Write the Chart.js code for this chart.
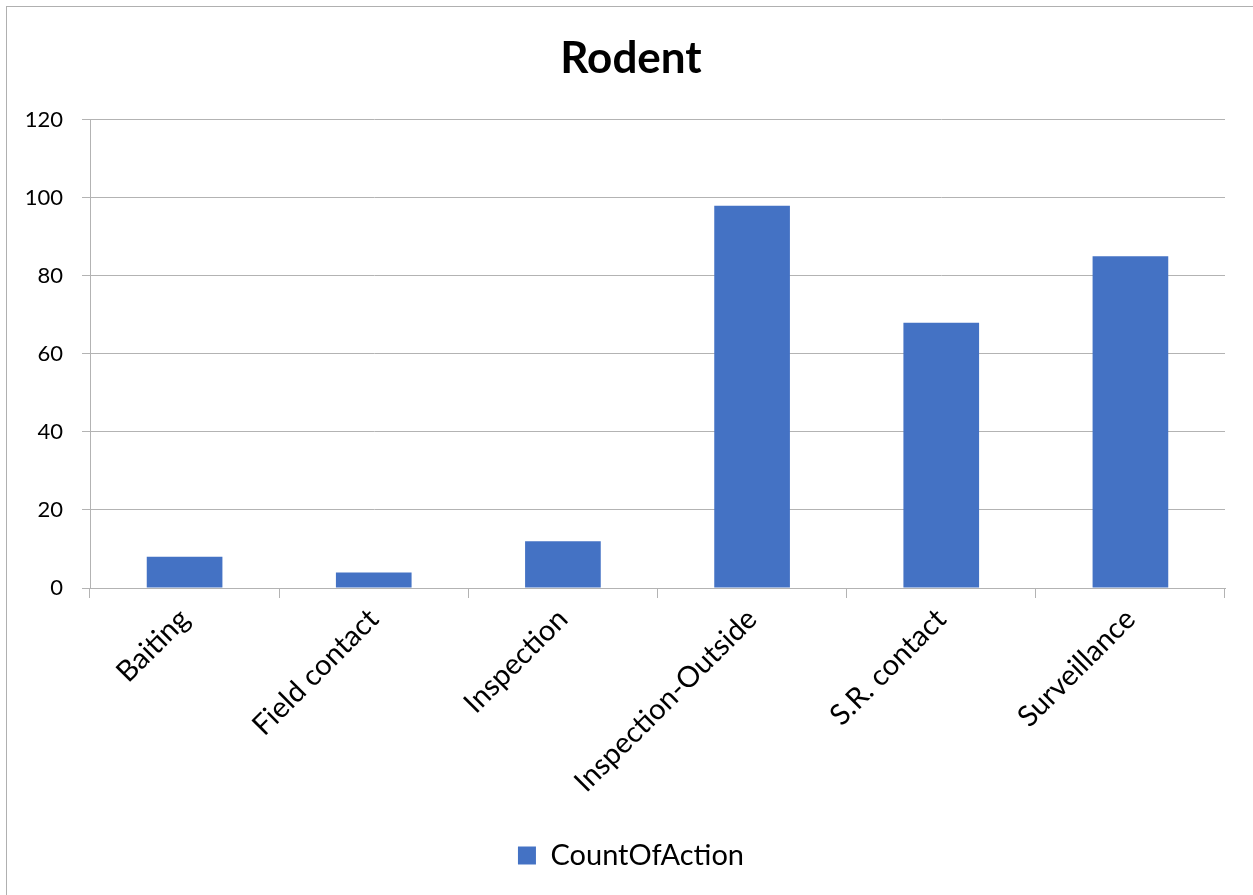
<!DOCTYPE html>
<html>
<head>
<meta charset="utf-8">
<script src="https://cdn.jsdelivr.net/npm/chart.js@4"></script>
<style>
    body { margin: 0; background: #fff; overflow: hidden; }
    #frame {
        position: absolute; left: 6px; top: 6px;
        width: 1260px; height: 900px;
        border: 1.5px solid #b0b0b0;
    }
    #rodentChart { position: absolute; left: 9px; top: 9px; }
</style>
</head>
<body>
<div id="frame"></div>
<canvas id="rodentChart" width="1244" height="886"></canvas>
<script>
const categories = ["Baiting", "Field contact", "Inspection", "Inspection-Outside", "S.R. contact", "Surveillance"];
const countOfAction = [8, 4, 12, 98, 68, 85];
const yTicks = [0, 20, 40, 60, 80, 100, 120];

const fontName = "Lato, 'Open Sans', sans-serif";
const gridColor = "#b3b3b3";

const rodentCtx = document.getElementById("rodentChart").getContext("2d");
new Chart(rodentCtx, {
    type: "bar",
    data: {
        labels: categories,
        datasets: [
            {
                label: "CountOfAction",
                data: countOfAction,
                backgroundColor: "#4472C4",
                categoryPercentage: 1,
                barPercentage: 0.4,
            },
        ],
    },
    options: {
        responsive: false,
        animation: false,
        layout: { padding: { left: 0, right: 0, top: 0, bottom: 15 } },
        plugins: {
            title: {
                display: true,
                text: "Rodent",
                color: "#000",
                font: { family: fontName, size: 44, weight: "bold", lineHeight: 1.2 },
                padding: { top: 23, bottom: 35 },
            },
            legend: {
                position: "bottom",
                labels: {
                    color: "#000",
                    boxWidth: 18,
                    boxHeight: 18,
                    padding: 10,
                    font: { family: fontName, size: 29 },
                },
            },
            tooltip: { enabled: false },
        },
        scales: {
            x: {
                offset: true,
                grid: {
                    offset: true,
                    drawOnChartArea: false,
                    drawTicks: true,
                    tickLength: 10,
                    color: gridColor,
                },
                border: { display: true, color: gridColor },
                ticks: {
                    color: "#000",
                    minRotation: 45,
                    maxRotation: 45,
                    padding: 4,
                    font: { family: fontName, size: 29 },
                },
                afterFit: (scale) => { scale.height = 243; },
            },
            y: {
                min: 0,
                max: 120,
                afterBuildTicks: (scale) => { scale.ticks = yTicks.map((v) => ({ value: v })); },
                grid: { color: gridColor, tickLength: 8 },
                border: { display: true, color: gridColor },
                ticks: {
                    color: "#000",
                    padding: 19,
                    font: { family: fontName, size: 22 },
                },
                afterFit: (scale) => { scale.width = 81; },
            },
            // empty right-hand axis, only keeps the plot clear of the right edge
            spacer: {
                position: "right",
                display: true,
                grid: { display: false },
                border: { display: false },
                ticks: { display: false },
                afterFit: (scale) => { scale.width = 28; },
            },
        },
    },
});
</script>
</body>
</html>
